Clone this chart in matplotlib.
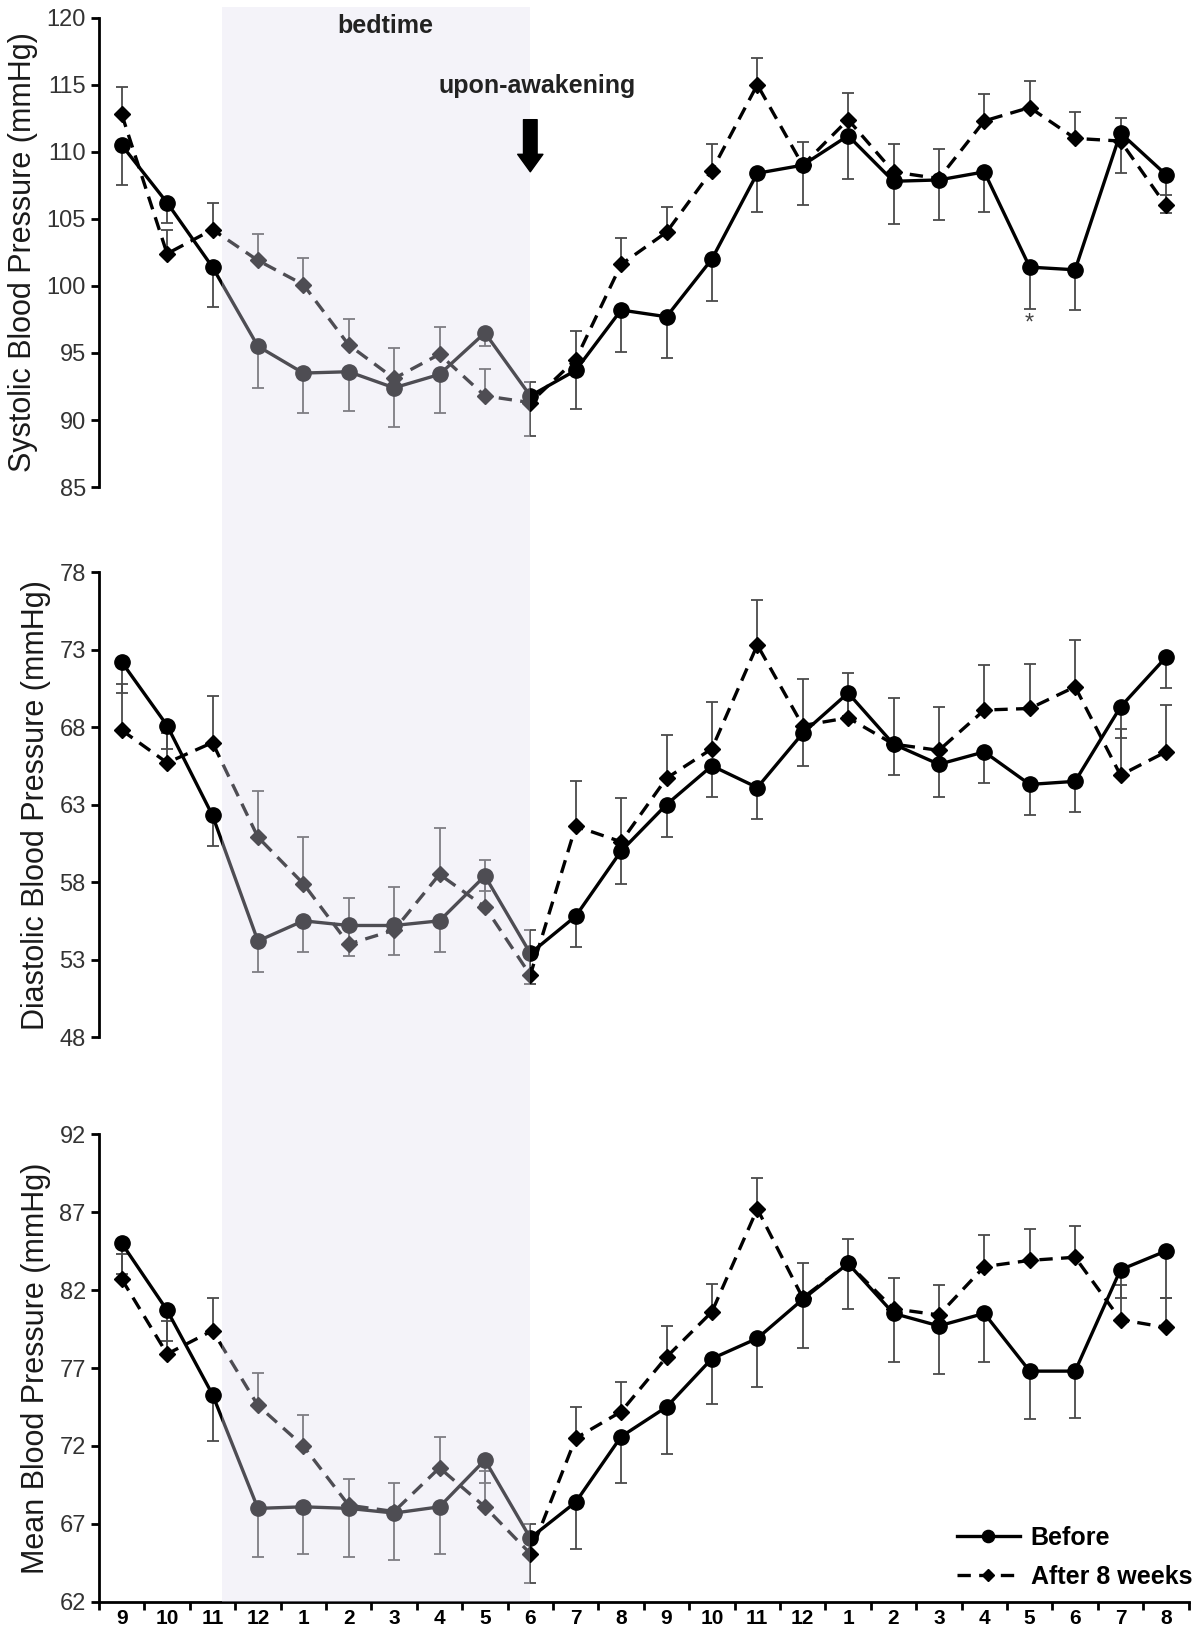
import numpy as np
import matplotlib
matplotlib.use("Agg")
import matplotlib.pyplot as plt
import matplotlib.transforms as mtransforms
from matplotlib.patches import Rectangle, FancyArrowPatch

plt.rcParams['font.family'] = ['Liberation Sans', 'DejaVu Sans']

# heures (axe x commun)
hours = ['9', '10', '11', '12', '1', '2', '3', '4', '5', '6', '7', '8',
         '9', '10', '11', '12', '1', '2', '3', '4', '5', '6', '7', '8']

# pression systolique
sbp_before = [110.5, 106.2, 101.4, 95.5, 93.5, 93.6, 92.4, 93.4, 96.5, 91.8, 93.7, 98.2,
              97.7, 102.0, 108.4, 109.0, 111.2, 107.8, 107.9, 108.5, 101.4, 101.2, 111.4, 108.3]
sbp_before_err = [3.0, 1.5, 3.0, 3.1, 3.0, 2.9, 2.9, 2.9, 1.0, 3.0, 2.9, 3.1,
                  3.1, 3.1, 2.9, 3.0, 3.2, 3.2, 3.0, 3.0, 3.1, 3.0, 3.0, 2.9]
sbp_after = [112.8, 102.4, 104.2, 101.9, 100.1, 95.6, 93.1, 94.9, 91.8, 91.3, 94.5, 101.6,
             104.0, 108.6, 115.0, 109.0, 112.4, 108.5, 108.0, 112.3, 113.3, 111.0, 110.8, 106.0]
sbp_after_err = [2.0, 1.8, 2.0, 2.0, 2.0, 1.9, 2.3, 2.0, 2.0, 1.5, 2.1, 2.0,
                 1.9, 2.0, 2.0, 1.7, 2.0, 2.1, 2.2, 2.0, 2.0, 2.0, 1.7, 0.8]
star_idx = 20
star_val = 97.2

# pression diastolique
dbp_before = [72.2, 68.1, 62.3, 54.2, 55.5, 55.2, 55.2, 55.5, 58.4, 53.4, 55.8, 60.0,
              63.0, 65.5, 64.1, 67.6, 70.2, 66.9, 65.6, 66.4, 64.3, 64.5, 69.3, 72.5]
dbp_before_err = [2.0, 1.5, 2.0, 2.0, 2.0, 2.0, 1.9, 2.0, 1.0, 2.0, 2.0, 2.1,
                  2.1, 2.0, 2.0, 2.1, 1.5, 2.0, 2.1, 2.0, 2.0, 2.0, 2.0, 2.0]
dbp_after = [67.8, 65.7, 67.0, 60.9, 57.9, 54.0, 54.9, 58.5, 56.4, 52.0, 61.6, 60.6,
             64.7, 66.6, 73.3, 68.1, 68.6, 66.9, 66.5, 69.1, 69.2, 70.6, 64.9, 66.4]
dbp_after_err = [3.0, 1.9, 3.0, 3.0, 3.0, 3.0, 2.8, 3.0, 3.0, 2.9, 2.9, 2.8,
                 2.8, 3.0, 2.9, 3.0, 2.9, 3.0, 2.8, 2.9, 2.9, 3.0, 3.0, 3.0]

# pression moyenne
mbp_before = [85.0, 80.7, 75.3, 68.0, 68.1, 68.0, 67.7, 68.1, 71.1, 66.1, 68.4, 72.6,
              74.5, 77.6, 78.9, 81.4, 83.7, 80.5, 79.7, 80.5, 76.8, 76.8, 83.3, 84.5]
mbp_before_err = [2.0, 2.0, 3.0, 3.1, 3.0, 3.1, 3.0, 3.0, 1.5, 2.9, 3.0, 3.0,
                  3.0, 2.9, 3.1, 3.1, 2.9, 3.1, 3.1, 3.1, 3.1, 3.0, 1.8, 3.0]
mbp_after = [82.7, 77.9, 79.4, 74.6, 72.0, 68.2, 67.8, 70.6, 68.1, 65.1, 72.5, 74.2,
             77.7, 80.6, 87.2, 81.5, 83.7, 80.8, 80.4, 83.5, 83.9, 84.1, 80.1, 79.6]
mbp_after_err = [1.6, 2.1, 2.1, 2.1, 2.0, 1.7, 1.8, 2.0, 2.3, 1.9, 2.0, 1.9,
                 2.0, 1.8, 2.0, 2.2, 1.6, 2.0, 1.9, 2.0, 2.0, 2.0, 2.2, 1.9]

x = np.arange(len(hours))
zeros = np.zeros(len(hours))

fig = plt.figure(figsize=(12, 16.35), dpi=100)
ax1 = fig.add_axes([0.0825, 0.7021, 0.908, 0.2871])
ax2 = fig.add_axes([0.0825, 0.3657, 0.908, 0.2844])
ax3 = fig.add_axes([0.0825, 0.0202, 0.908, 0.2862])

panels = [
    (ax1, sbp_before, sbp_before_err, sbp_after, sbp_after_err, 85, 120, 'Systolic Blood Pressure (mmHg)'),
    (ax2, dbp_before, dbp_before_err, dbp_after, dbp_after_err, 48, 78, 'Diastolic Blood Pressure (mmHg)'),
    (ax3, mbp_before, mbp_before_err, mbp_after, mbp_after_err, 62, 92, 'Mean Blood Pressure (mmHg)'),
]

for ax, bef, bef_err, aft, aft_err, ymin, ymax, lab in panels:
    # barres d'erreur : vers le bas pour "Before", vers le haut pour "After"
    ax.errorbar(x, bef, yerr=[bef_err, zeros], fmt='none', ecolor='#4a4a4a',
                elinewidth=1.3, capsize=4, capthick=1.3, zorder=1)
    ax.errorbar(x, aft, yerr=[zeros, aft_err], fmt='none', ecolor='#4a4a4a',
                elinewidth=1.3, capsize=4, capthick=1.3, zorder=1)
    l1, = ax.plot(x, bef, color='black', lw=2.4, marker='o', ms=11, zorder=3, label='Before')
    l2, = ax.plot(x, aft, color='black', lw=2.4, ls=(0, (4, 2.5)), marker='D', ms=8,
                  zorder=2, label='After 8 weeks')
    ax.set_xlim(-0.5, 23.5)
    ax.set_ylim(ymin, ymax)
    ax.set_yticks(np.arange(ymin, ymax + 1, 5))
    ax.set_ylabel(lab, fontsize=22, color='#1a1a1a', labelpad=6)
    ax.tick_params(axis='y', labelsize=17, labelcolor='#333333', length=6, width=2, direction='out')
    for s in ['top', 'right']:
        ax.spines[s].set_visible(False)
    ax.spines['left'].set_linewidth(2)
    if ax is not ax3:
        ax.spines['bottom'].set_visible(False)
        ax.set_xticks([])
    else:
        ax.spines['bottom'].set_linewidth(2)
        ax.set_xticks(np.arange(-0.5, 24, 1))
        ax.set_xticklabels([])
        ax.set_xticks(x, minor=True)
        ax.set_xticklabels(hours, minor=True, fontweight='bold', fontsize=15)
        ax.tick_params(axis='x', which='major', length=6, width=2)
        ax.tick_params(axis='x', which='minor', length=0, pad=5)

ax1.text(star_idx, star_val, '*', ha='center', va='center', fontsize=17, color='#444444')

ax3.legend(handles=[l1, l2], loc='upper left', bbox_to_anchor=(0.7975, 0.0667),
           bbox_transform=fig.transFigure, frameon=False, borderpad=0, borderaxespad=0,
           prop={'weight': 'bold', 'size': 18}, handlelength=2.5, handletextpad=0.45,
           labelspacing=0.6, markerscale=0.8)

# zone de nuit (voile sur les trois panneaux)
trans = mtransforms.blended_transform_factory(ax3.transData, fig.transFigure)
night_start, night_end = 2.2, 9.0
fig.add_artist(Rectangle((night_start, 0.0202), night_end - night_start, 0.9957 - 0.0202,
                         transform=trans, facecolor=(0.877, 0.866, 0.943), alpha=0.35,
                         edgecolor='none', zorder=10))

# annotations au-dessus du voile
fig.text(5.8, 119.4, 'bedtime', transform=ax1.transData, ha='center', va='center',
         fontsize=18, fontweight='bold', color='#222222', zorder=11)
fig.text(9.15, 114.9, 'upon-awakening', transform=ax1.transData, ha='center', va='center',
         fontsize=18, fontweight='bold', color='#222222', zorder=11)
fig.add_artist(FancyArrowPatch((9, 112.6), (9, 108.3), transform=ax1.transData,
                               arrowstyle='simple,head_width=1.3,head_length=0.9,tail_width=0.7',
                               mutation_scale=14, color='black', zorder=11))

plt.savefig('out.png', dpi=100)
